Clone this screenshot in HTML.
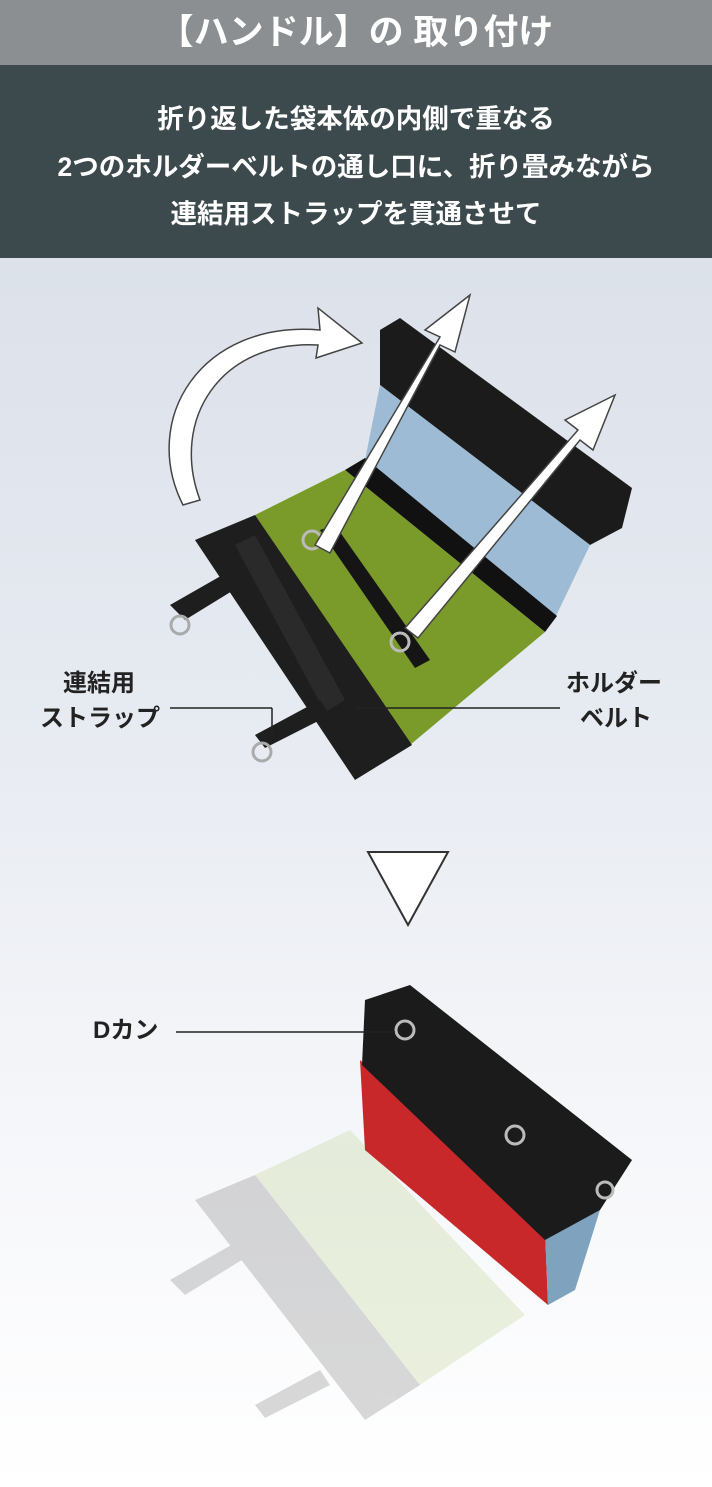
<!DOCTYPE html>
<html><head><meta charset="utf-8"><style>
html,body{margin:0;padding:0}
body{width:712px;height:1487px;position:relative;overflow:hidden;font-family:"Liberation Sans","Noto Sans CJK JP",sans-serif;background:linear-gradient(#dce1ea 258px,#e6eaf1 700px,#f6f7fa 1150px,#ffffff 1487px)}
.t{position:absolute;left:0;top:0;width:712px;height:65px;background:#8b8f92;color:#fff;font-weight:bold;font-size:35px;text-align:center;line-height:65px}
.s{position:absolute;left:0;top:65px;width:712px;height:193px;background:#3d4a4d;color:#fff;font-weight:bold;font-size:26.5px;text-align:center}
.s div{position:absolute;left:0;width:712px}
.l{position:absolute;font-weight:bold;font-size:24px;color:#222;line-height:36px}
svg{position:absolute;left:0;top:0}
</style></head><body>
<div class="t">【ハンドル】の 取り付け</div>
<div class="s"><div style="top:32px">折り返した袋本体の内側で重なる</div><div style="top:80px">2つのホルダーベルトの通し口に、折り畳みながら</div><div style="top:127px">連結用ストラップを貫通させて</div></div>
<svg width="712" height="1487">
<polygon points="380,330 400,318 632,488 622,528 590,545 380,385" fill="#1b1b1b"/>
<polygon points="365,460 380,385 590,545 555,618" fill="#9dbbd4"/>
<polygon points="345,470 365,458 557,616 545,632" fill="#111"/>
<polygon points="255,515 345,470 545,632 410,745" fill="#7a9a2a"/>
<polygon points="195,540 255,515 412,745 355,780" fill="#1e1e1e"/>
<polygon points="235,545 255,535 345,700 325,712" fill="#2a2a2a"/>
<polygon points="320,530 335,525 430,660 415,668" fill="#151515"/>
<polygon points="170,605 240,565 250,580 185,620" fill="#1e1e1e"/>
<polygon points="255,735 320,700 330,715 265,748" fill="#1e1e1e"/>
<circle cx="180" cy="625" r="9" fill="none" stroke="#aaa" stroke-width="3"/>
<circle cx="262" cy="752" r="9" fill="none" stroke="#aaa" stroke-width="3"/>
<circle cx="312" cy="540" r="9" fill="none" stroke="#bbb" stroke-width="3"/>
<circle cx="400" cy="642" r="9" fill="none" stroke="#bbb" stroke-width="3"/>
<polygon points="315,545 330,553 440,345 455,352 470,295 425,330 440,337" fill="#fff" stroke="#444" stroke-width="1.5"/>
<polygon points="405,628 418,638 580,440 593,450 615,395 565,420 578,430" fill="#fff" stroke="#444" stroke-width="1.5"/>
<path d="M183,505 C140,420 200,320 320,330 L318,308 L362,343 L316,358 L318,345 C220,340 170,420 200,500 Z" fill="#fff" stroke="#444" stroke-width="1.5"/>
<line x1="170" y1="708" x2="272" y2="708" stroke="#222" stroke-width="1.5"/>
<line x1="272" y1="708" x2="272" y2="735" stroke="#222" stroke-width="1.5"/>
<line x1="355" y1="708" x2="560" y2="708" stroke="#222" stroke-width="1.5"/>
<polygon points="368,852 448,852 408,925" fill="#fff" stroke="#333" stroke-width="2"/>
<g opacity="0.18">
<polygon points="255,1175 350,1130 525,1315 420,1385" fill="#9aba50"/>
<polygon points="195,1200 255,1175 420,1385 365,1420" fill="#333"/>
<polygon points="170,1280 240,1240 250,1255 185,1295" fill="#333"/>
<polygon points="255,1405 320,1370 330,1385 265,1418" fill="#333"/>
</g>
<polygon points="360,1060 545,1230 548,1305 365,1150" fill="#c8282a"/>
<polygon points="545,1230 600,1210 575,1290 548,1305" fill="#7fa2bf"/>
<polygon points="365,1000 410,985 632,1160 600,1210 545,1240 362,1065" fill="#1b1b1b"/>
<circle cx="405" cy="1030" r="9" fill="none" stroke="#bbb" stroke-width="3"/>
<circle cx="515" cy="1135" r="9" fill="none" stroke="#bbb" stroke-width="3"/>
<circle cx="605" cy="1190" r="8" fill="none" stroke="#bbb" stroke-width="3"/>
<line x1="176" y1="1032" x2="395" y2="1032" stroke="#222" stroke-width="1.5"/>
</svg>
<div class="l" style="left:63px;top:666px">連結用</div>
<div class="l" style="left:40px;top:701px">ストラップ</div>
<div class="l" style="left:566px;top:666px">ホルダー</div>
<div class="l" style="left:580px;top:701px">ベルト</div>
<div class="l" style="left:93px;top:1013px">Dカン</div>
</body></html>
